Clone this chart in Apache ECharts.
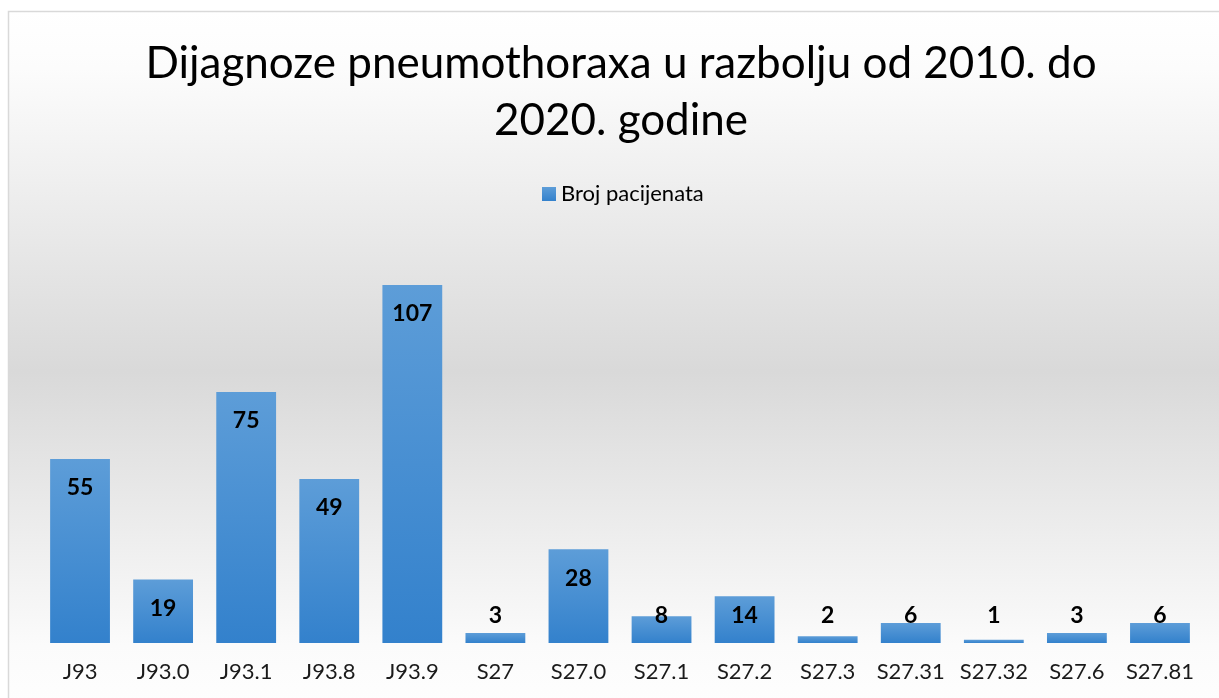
<!DOCTYPE html>
<html>
<head>
<meta charset="utf-8">
<script src="https://cdn.jsdelivr.net/npm/echarts@6/dist/echarts.min.js"></script>
<style>
html,body{margin:0;padding:0;background:#fff;}
#c{width:1219px;height:698px;}
</style>
</head>
<body>
<div id="c"></div>
<script>
const titleText = 'Dijagnoze pneumothoraxa u razbolju od 2010. do\n2020. godine';
const seriesName = 'Broj pacijenata';
const categories = ['J93','J93.0','J93.1','J93.8','J93.9','S27','S27.0','S27.1','S27.2','S27.3','S27.31','S27.32','S27.6','S27.81'];
const values = [55,19,75,49,107,3,28,8,14,2,6,1,3,6];

const chart = echarts.init(document.getElementById('c'), null, {renderer:'canvas'});
const barGrad = new echarts.graphic.LinearGradient(0,0,0,1,[
  {offset:0,color:'#5d9dd8'},
  {offset:1,color:'#3381cc'}
]);
chart.setOption({
  backgroundColor:'#ffffff',
  animation:false,
  graphic:[{
    type:'rect',
    z:-10,
    shape:{x:8.5,y:11.5,width:1230,height:720},
    style:{
      fill:new echarts.graphic.LinearGradient(0,0,0,1,[
        {offset:0,color:'#ffffff'},
        {offset:0.08,color:'#fcfcfc'},
        {offset:0.5,color:'#d9d9d9'},
        {offset:0.88,color:'#fbfbfb'},
        {offset:1,color:'#ffffff'}
      ]),
      stroke:'#d9d9d9',
      lineWidth:1.5
    }
  }],
  title:{
    text:titleText,
    left:616,
    textAlign:'center',
    top:30,
    textStyle:{fontFamily:'Lato',fontSize:44,fontWeight:'normal',color:'#000',lineHeight:57}
  },
  legend:{
    data:[seriesName],
    top:178,
    left:537,
    itemWidth:14,
    itemHeight:14,
    itemGap:6,
    icon:'rect',
    textStyle:{fontFamily:'Lato',fontSize:22,color:'#000'}
  },
  grid:{left:38.5,right:17.5,top:241.5,bottom:55,containLabel:false},
  xAxis:{
    type:'category',
    data:categories,
    axisLine:{show:false},
    axisTick:{show:false},
    axisLabel:{interval:0,fontFamily:'Lato',fontSize:22,color:'#1a1a1a',margin:18}
  },
  yAxis:{
    type:'value',
    min:0,max:120,interval:20,
    show:false,
    splitLine:{show:false}
  },
  series:[{
    name:seriesName,
    type:'bar',
    data:values,
    barWidth:'72%',
    itemStyle:{color:barGrad},
    label:{
      show:true,
      position:'insideTop',
      distance:0,
      align:'center',
      verticalAlign:'middle',
      fontFamily:'Lato',
      fontSize:23,
      fontWeight:'bold',
      color:'#000'
    },
    labelLayout:function(p){
      const r = p.rect;
      const base = r.y + r.height;
      return {x: r.x + r.width / 2, y: Math.min(r.y + 29, base - 27), align:'center', verticalAlign:'middle'};
    }
  }]
});
</script>
</body>
</html>
